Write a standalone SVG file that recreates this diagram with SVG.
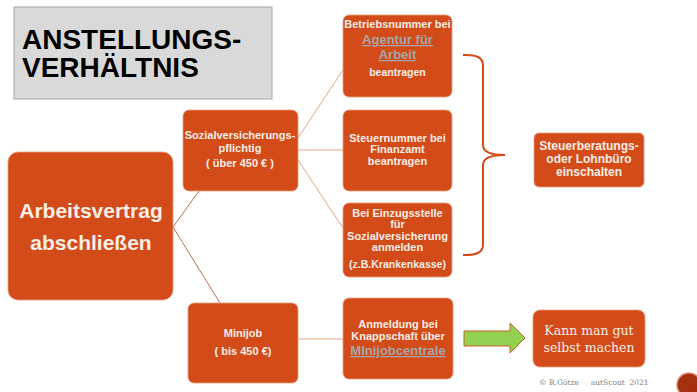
<svg xmlns="http://www.w3.org/2000/svg" width="697" height="392" viewBox="0 0 697 392">
<defs>
<style>
.box{fill:#d24b19;stroke:#e9a07c;stroke-width:0.8}
.t{font-family:"Liberation Sans",Arial,sans-serif;font-weight:bold;fill:#fbeee6;text-anchor:middle}
.s{font-size:11px}
.link{font-family:"Liberation Sans",Arial,sans-serif;font-weight:bold;fill:#a6a6a6;text-anchor:middle;text-decoration:underline;font-size:13px}
.con{stroke:#e3a587;stroke-width:1;fill:none}
</style>
</defs>
<rect width="697" height="392" fill="#ffffff"/>
<g id="title">
<rect x="14" y="7" width="258" height="92" fill="#d9d9d9" stroke="#a6a6a6" stroke-width="1"/>
<text x="22" y="49" font-family="Liberation Sans,Arial,sans-serif" font-weight="bold" font-size="28" fill="#000">ANSTELLUNGS-</text>
<text x="22" y="77" font-family="Liberation Sans,Arial,sans-serif" font-weight="bold" font-size="28" fill="#000">VERHÄLTNIS</text>
</g>
<g id="connectors">
<line class="con" x1="173" y1="227" x2="199" y2="191" style="stroke:#c0704e"/>
<line class="con" x1="173" y1="227" x2="220" y2="303" style="stroke:#c0704e"/>
<line class="con" x1="298" y1="138" x2="343" y2="70"/>
<line class="con" x1="298" y1="150" x2="343" y2="150"/>
<line class="con" x1="298" y1="160" x2="343" y2="228"/>
<line class="con" x1="298" y1="339" x2="343" y2="339"/>
<path d="M463 55 Q483 54 483 65 L483 145 Q483 155 505 155 Q483 155 483 165 L483 245 Q483 256 463 255" fill="none" stroke="#d24b19" stroke-width="2"/>
<path d="M464 331 L510 331 L510 323 L525 338 L510 353 L510 346 L464 346 Z" fill="#92d050" stroke="#c8602e" stroke-width="1"/>
</g>
<g id="n-arbeitsvertrag">
<rect class="box" x="8" y="152" width="165" height="148" rx="10"/>
<text class="t" x="91" y="218" font-size="21">Arbeitsvertrag</text>
<text class="t" x="91" y="250" font-size="21">abschließen</text>
</g>
<g id="n-sozial">
<rect class="box" x="183" y="110" width="115" height="81" rx="6"/>
<text class="t s" x="240" y="139">Sozialversicherungs-</text>
<text class="t s" x="240" y="152">pflichtig</text>
<text class="t s" x="240" y="167">( über 450 € )</text>
</g>
<g id="n-betriebsnummer">
<rect class="box" x="343" y="15" width="109" height="82" rx="6"/>
<text class="t s" x="397.5" y="28">Betriebsnummer bei</text>
<text class="link" x="397.5" y="44">Agentur für</text>
<text class="link" x="397.5" y="59">Arbeit</text>
<text class="t" x="397.5" y="76" font-size="10.5">beantragen</text>
</g>
<g id="n-steuernummer">
<rect class="box" x="343" y="110" width="109" height="81" rx="6"/>
<text class="t s" x="397.5" y="142">Steuernummer bei</text>
<text class="t s" x="397.5" y="153">Finanzamt</text>
<text class="t s" x="397.5" y="165">beantragen</text>
</g>
<g id="n-einzugsstelle">
<rect class="box" x="343" y="203" width="109" height="74" rx="6"/>
<text class="t s" x="397.5" y="217">Bei Einzugsstelle</text>
<text class="t s" x="397.5" y="228">für</text>
<text class="t s" x="397.5" y="240">Sozialversicherung</text>
<text class="t s" x="397.5" y="251">anmelden</text>
<text class="t" x="397.5" y="268" font-size="10.5">(z.B.Krankenkasse)</text>
</g>
<g id="n-steuerberatung">
<rect class="box" x="534" y="133" width="110" height="54" rx="5"/>
<text class="t" x="589" y="150" font-size="12">Steuerberatungs-</text>
<text class="t" x="589" y="163" font-size="12">oder Lohnbüro</text>
<text class="t" x="589" y="176" font-size="12">einschalten</text>
</g>
<g id="n-minijob">
<rect class="box" x="188" y="303" width="110" height="80" rx="6"/>
<text class="t s" x="243" y="337">Minijob</text>
<text class="t s" x="243" y="355">( bis 450 €)</text>
</g>
<g id="n-anmeldung">
<rect class="box" x="343" y="298" width="110" height="81" rx="6"/>
<text class="t s" x="398" y="328">Anmeldung bei</text>
<text class="t s" x="398" y="340">Knappschaft über</text>
<text class="link" x="398" y="355">MInijobcentrale</text>
</g>
<g id="n-selbst">
<rect class="box" x="533" y="310" width="112" height="57" rx="7"/>
<text x="589" y="335" font-family="DejaVu Serif,serif" font-size="12.5" fill="#fbeee6" text-anchor="middle">Kann man gut</text>
<text x="589" y="352" font-family="DejaVu Serif,serif" font-size="12.5" fill="#fbeee6" text-anchor="middle">selbst machen</text>
</g>
<text x="539" y="385" font-family="DejaVu Serif,serif" font-size="7.5" fill="#7f7f7f" xml:space="preserve">© R.Götze     autScout  2021</text>
<circle cx="689" cy="385" r="12" fill="#a5300f" stroke="#e08a6a" stroke-width="1.5"/>
</svg>
